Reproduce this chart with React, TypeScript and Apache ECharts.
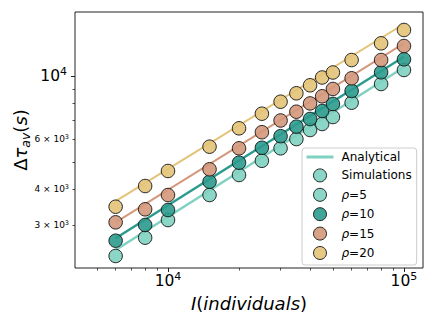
import React, { useEffect, useRef } from 'react';
import * as echarts from 'echarts';

// ---- data ----
const individuals = [6000, 8000, 10000, 15000, 20000, 25000, 30000, 35000, 40000, 45000, 50000, 60000, 80000, 100000];
const simRho5 = [2336, 2708, 3124, 3823, 4494, 5040, 5576, 6008, 6464, 6787, 7179, 8058, 9374, 10497];
const simRho10 = [2643, 3001, 3387, 4257, 4963, 5600, 6150, 6641, 7065, 7537, 7976, 8858, 10303, 11444];
const simRho15 = [3066, 3406, 3823, 4706, 5576, 6350, 6981, 7493, 8014, 8488, 9004, 9816, 11378, 12742];
const simRho20 = [3478, 4111, 4642, 5649, 6553, 7373, 8124, 8695, 9277, 9880, 10287, 11378, 13021, 14502];

const analyticI = [6000, 100000];
const anRho5 = [2452, 10728];
const anRho10 = [2695, 11687];
const anRho15 = [3066, 13021];
const anRho20 = [3641, 15219];

const xRange = [4036, 120400];
const yRange = [2120, 16770];
const xMajorTicks = [10000, 100000];
const xMinorTicks = [5000, 6000, 7000, 8000, 9000, 20000, 30000, 40000, 50000, 60000, 70000, 80000, 90000];
const yMajorTicks = [10000];
const yMinorTicks = [3000, 4000, 5000, 6000, 7000, 8000, 9000];
const yMinorLabels = [3000, 4000, 6000];

const legendNames = ['Analytical', 'Simulations', 'ρ=5', 'ρ=10', 'ρ=15', 'ρ=20'];

const F = 'DejaVu Sans';
const C5 = '#7fd1c1';
const C10 = '#2b9b8d';
const C15 = '#d4987c';
const C20 = '#e3c378';
const TICK = '#222';

const lg = (v: number) => Math.log10(v);
const pairs = (xs: number[], ys: number[]) => xs.map((x, i) => [x, ys[i]]);

const majorRich = {
  b: { fontFamily: F, fontSize: 15.5, lineHeight: 20, color: '#000' },
  s: { fontFamily: F, fontSize: 11, lineHeight: 11, verticalAlign: 'top', color: '#000' },
};
const minorRich = {
  m: { fontFamily: F, fontSize: 9, lineHeight: 12, color: '#000' },
  ms: { fontFamily: F, fontSize: 6.5, lineHeight: 6.5, verticalAlign: 'top', color: '#000' },
};

export default function App() {
  const ref = useRef<HTMLDivElement>(null);
  useEffect(() => {
    if (!ref.current) return;
    const chart = echarts.init(ref.current, undefined, { renderer: 'svg' });
    const box = { left: 75, top: 12, width: 348, height: 256 };
    const hidden = {
      axisLine: { show: false },
      splitLine: { show: false },
      minorTick: { show: false },
      minorSplitLine: { show: false },
    };
    const markerStyle = (c: string) => ({ color: c, borderColor: '#111', borderWidth: 1, opacity: 0.9 });
    const lineS = (name: string, c: string, w: number, ys: number[]) => ({
      type: 'line', name, xAxisIndex: 0, yAxisIndex: 0, data: pairs(analyticI, ys),
      symbol: 'none', color: c, lineStyle: { color: c, width: w }, itemStyle: { color: c }, z: 2,
    });
    const scat = (name: string, c: string, ys: number[]) => ({
      type: 'scatter', name, xAxisIndex: 0, yAxisIndex: 0, data: pairs(individuals, ys),
      symbol: 'circle', symbolSize: 13.5, color: c, itemStyle: markerStyle(c), z: 3,
    });
    const option: any = {
      animation: false,
      grid: [
        { ...box, show: true, borderColor: '#222', borderWidth: 1, backgroundColor: 'rgba(0,0,0,0)' },
        { ...box },
        { ...box },
      ],
      xAxis: [
        { type: 'log', logBase: 10, gridIndex: 0, min: xRange[0], max: xRange[1], ...hidden, axisTick: { show: false }, axisLabel: { show: false } },
        {
          type: 'value', gridIndex: 1, position: 'bottom', min: lg(xRange[0]), max: lg(xRange[1]), ...hidden,
          axisTick: { show: true, customValues: xMajorTicks.map(lg), length: 4, lineStyle: { color: TICK, width: 1 } },
          axisLabel: {
            show: true, customValues: xMajorTicks.map(lg), margin: 3,
            formatter: (v: number) => `{b|10}{s|${Math.round(v)}}`, rich: majorRich,
          },
        },
        {
          type: 'value', gridIndex: 2, position: 'bottom', min: lg(xRange[0]), max: lg(xRange[1]), ...hidden,
          axisTick: { show: true, customValues: xMinorTicks.map(lg), length: 2.5, lineStyle: { color: TICK, width: 0.8 } },
          axisLabel: { show: false },
        },
      ],
      yAxis: [
        { type: 'log', logBase: 10, gridIndex: 0, min: yRange[0], max: yRange[1], ...hidden, axisTick: { show: false }, axisLabel: { show: false } },
        {
          type: 'value', gridIndex: 1, position: 'left', min: lg(yRange[0]), max: lg(yRange[1]), ...hidden,
          axisTick: { show: true, customValues: yMajorTicks.map(lg), length: 4, lineStyle: { color: TICK, width: 1 } },
          axisLabel: {
            show: true, customValues: yMajorTicks.map(lg), margin: 8,
            formatter: (v: number) => `{b|10}{s|${Math.round(v)}}`, rich: majorRich,
          },
        },
        {
          type: 'value', gridIndex: 2, position: 'left', min: lg(yRange[0]), max: lg(yRange[1]), ...hidden,
          axisTick: { show: true, customValues: yMinorTicks.map(lg), length: 2.5, lineStyle: { color: TICK, width: 0.8 } },
          axisLabel: {
            show: true, customValues: yMinorLabels.map(lg), margin: 6,
            formatter: (v: number) => {
              const e = Math.floor(v + 1e-9);
              const m = Math.round(Math.pow(10, v - e));
              return `{m|${m} × 10}{ms|${e}}`;
            },
            rich: minorRich,
          },
        },
      ],
      legend: {
        orient: 'vertical', left: 302, top: 148,
        padding: [3, 5, 5, 3], itemWidth: 27, itemHeight: 13, itemGap: 5.4,
        backgroundColor: 'rgba(255,255,255,0.8)', borderColor: '#cccccc', borderWidth: 1, borderRadius: 3,
        selectedMode: false,
        textStyle: {
          fontFamily: F, fontSize: 12, color: '#000', padding: [0, 0, 0, 3],
          rich: {
            i: { fontFamily: F, fontSize: 12, fontStyle: 'italic', color: '#000', lineHeight: 13 },
            n: { fontFamily: F, fontSize: 12, color: '#000', lineHeight: 13 },
          },
        },
        formatter: (name: string) => (name.startsWith('ρ') ? `{i|ρ}{n|${name.slice(1)}}` : `{n|${name}}`),
        data: legendNames.map((n, i) =>
          i === 0
            ? { name: n, itemStyle: { color: 'rgba(0,0,0,0)', borderWidth: 0, opacity: 0 }, lineStyle: { width: 3, color: C5 } }
            : { name: n, icon: 'circle', itemStyle: { borderColor: '#111', borderWidth: 1 } }
        ),
      },
      graphic: [
        {
          type: 'text', x: 20, y: 140, rotation: Math.PI / 2,
          style: {
            text: '{n|Δ}{i|τ}{sub|av}{n|(}{i|s}{n|)}', align: 'center', verticalAlign: 'middle',
            rich: {
              n: { fontFamily: F, fontSize: 18, lineHeight: 24, fill: '#000' },
              i: { fontFamily: F, fontSize: 18, lineHeight: 24, fontStyle: 'italic', fill: '#000' },
              sub: { fontFamily: F, fontSize: 12.5, lineHeight: 12.5, fontStyle: 'italic', verticalAlign: 'bottom', fill: '#000' },
            },
          },
        },
        {
          type: 'text', x: 249, y: 303,
          style: {
            text: '{i|I}{n|(}{i|individuals}{n|)}', align: 'center', verticalAlign: 'middle',
            rich: {
              n: { fontFamily: F, fontSize: 18, lineHeight: 22, fill: '#000' },
              i: { fontFamily: F, fontSize: 18, lineHeight: 22, fontStyle: 'italic', fill: '#000' },
            },
          },
        },
      ],
      series: [
        lineS('Analytical', C5, 2.5, anRho5),
        lineS('a10', C10, 2.5, anRho10),
        lineS('a15', C15, 2, anRho15),
        lineS('a20', C20, 2, anRho20),
        { type: 'scatter', name: 'Simulations', xAxisIndex: 0, yAxisIndex: 0, data: [], symbol: 'circle', symbolSize: 13.5, color: C5, itemStyle: markerStyle(C5) },
        scat('ρ=5', C5, simRho5),
        scat('ρ=10', C10, simRho10),
        scat('ρ=15', C15, simRho15),
        scat('ρ=20', C20, simRho20),
      ],
    };
    chart.setOption(option);
    return () => chart.dispose();
  }, []);
  return <div ref={ref} style={{ position: 'fixed', left: 0, top: 0, width: 436, height: 327, background: '#fff' }} />;
}
